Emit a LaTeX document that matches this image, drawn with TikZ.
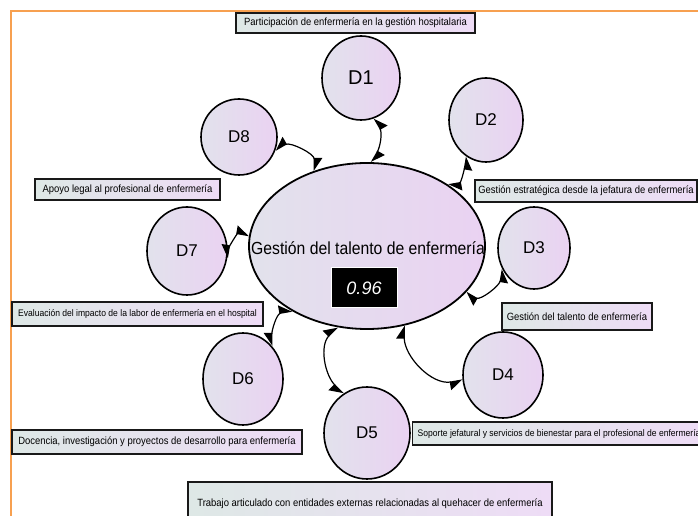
\documentclass[tikz,border=0pt]{standalone}
\usepackage{fontspec}
\setmainfont{Liberation Sans}
\usetikzlibrary{shapes.geometric,arrows.meta}
\definecolor{cl}{RGB}{226,226,236}
\definecolor{cr}{RGB}{234,210,242}
\definecolor{ll}{RGB}{222,232,230}
\definecolor{lr}{RGB}{238,220,246}
\definecolor{frame}{RGB}{247,160,80}
\newcommand{\hsq}[1]{\scalebox{0.9}[1]{#1}}
\begin{document}
\begin{tikzpicture}[x=1pt,y=1pt,
  dnode/.style={ellipse, draw=black, line width=1.6pt, left color=cl, right color=cr, inner sep=0pt, font=\fontsize{17}{17}\selectfont},
  lbl/.style={draw=black!90, line width=1.4pt, left color=ll, right color=lr, inner sep=0pt, font=\fontsize{10.5}{11}\selectfont},
  lbls/.style={lbl, font=\fontsize{9.5}{10}\selectfont},
  con/.style={line width=1.2pt, {Triangle[length=12pt,width=16pt,right]}-{Triangle[length=12pt,width=16pt,left]}}
]
\clip (0,0) rectangle (698,516);
\fill[white] (0,0) rectangle (698,516);
\draw[frame, line width=1.8pt] (11,-30) -- (11,505) -- (730,505);

% centre
\node[ellipse, draw=black, line width=1.8pt, left color=cl, right color=cr, minimum width=236pt, minimum height=166pt, inner sep=0pt] (E) at (367,270) {};
\node[font=\fontsize{17.5}{18}\selectfont] (Et) at (368,268) {\scalebox{0.9}[1]{Gestión del talento de enfermería}};
\node[fill=black, draw=white, line width=1pt, minimum width=66pt, minimum height=40pt, inner sep=0pt, text=white, font=\fontsize{18}{18}\selectfont\itshape] (val) at (364,228) {0.96};

% dimensions
\node[dnode, minimum width=78pt, minimum height=84pt, font=\fontsize{20}{20}\selectfont] (D1) at (361,438) {D1};
\node[dnode, minimum width=74pt, minimum height=84pt] (D2) at (486,396) {D2};
\node[dnode, minimum width=72pt, minimum height=82pt] (D3) at (534,268) {D3};
\node[dnode, minimum width=80pt, minimum height=86pt] (D4) at (503,141) {D4};
\node[dnode, minimum width=86pt, minimum height=92pt] (D5) at (367,83) {D5};
\node[dnode, minimum width=80pt, minimum height=92pt] (D6) at (243,137) {D6};
\node[dnode, minimum width=80pt, minimum height=88pt] (D7) at (187,265) {D7};
\node[dnode, minimum width=76pt, minimum height=76pt] (D8) at (239,379) {D8};

% labels
\node[lbl, minimum width=239pt, minimum height=20pt] (L1) at (355.5,493) {\hsq{Participación de enfermería en la gestión hospitalaria}};
\node[lbl, minimum width=222pt, minimum height=22pt] (L2) at (586,325) {\hsq{Gestión estratégica desde la jefatura de enfermería}};
\node[lbl, minimum width=185pt, minimum height=21pt] (L8) at (127.5,326.5) {\hsq{Apoyo legal al profesional de enfermería}};
\node[lbls, minimum width=251pt, minimum height=24pt] (L7) at (137.5,202) {\hsq{Evaluación del impacto de la labor de enfermería en el hospital}};
\node[lbl, minimum width=150pt, minimum height=27pt] (L3) at (577,199.5) {\hsq{Gestión del talento de enfermería}};
\node[lbl, minimum width=290pt, minimum height=24pt] (L6) at (157,74) {\hsq{Docencia, investigación y proyectos de desarrollo para enfermería}};
\node[lbls, anchor=west, minimum height=23pt, inner xsep=5pt] (L4) at (412,82.5) {\hsq{Soporte jefatural y servicios de bienestar para el profesional de enfermería}};
\node[lbl, minimum width=364pt, minimum height=43pt] (L5) at (370,12.5) {\hsq{Trabajo articulado con entidades externas relacionadas al quehacer de enfermería}};

% connectors
\draw[con] (D1.-72) to[out=-60,in=60] (E.87);
\draw[con] (D2.242) to[out=-100,in=10] (E.37);
\draw[con] (D3.214) to[out=-100,in=-30] (E.-25);
\draw[con] (D4.187) to[out=190,in=-90] (E.-65);
\draw[con] (D5.121) to[out=135,in=225] (E.250);
\draw[con] (D6.49) to[out=90,in=190] (E.221);
\draw[con] (D7.-10) to[out=80,in=170] (E.175);
\draw[con] (D8.-20) to[out=30,in=90] (E.125);
\end{tikzpicture}
\end{document}
